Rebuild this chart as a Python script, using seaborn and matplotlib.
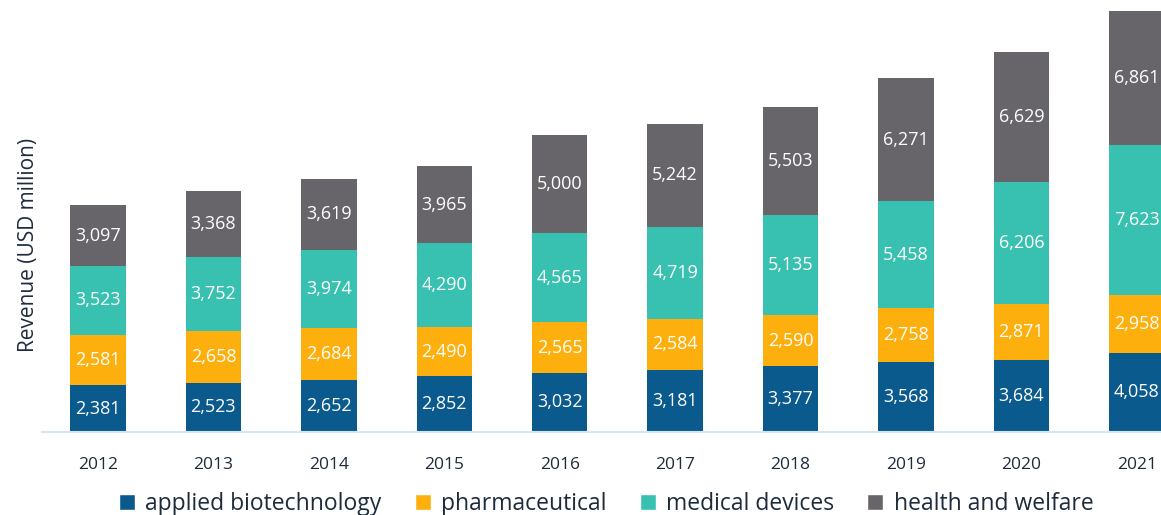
import pandas as pd
import seaborn as sns
from matplotlib import pyplot as plt
from matplotlib.patches import Patch

YEARS = ['2012', '2013', '2014', '2015', '2016', '2017', '2018', '2019', '2020', '2021']
BIOTECH = [2381, 2523, 2652, 2852, 3032, 3181, 3377, 3568, 3684, 4058]
PHARMA = [2581, 2658, 2684, 2490, 2565, 2584, 2590, 2758, 2871, 2958]
DEVICES = [3523, 3752, 3974, 4290, 4565, 4719, 5135, 5458, 6206, 7623]
WELFARE = [3097, 3368, 3619, 3965, 5000, 5242, 5503, 6271, 6629, 6861]

NAMES = ['applied biotechnology', 'pharmaceutical', 'medical devices', 'health and welfare']
COLORS = ['#0B5A8D', '#FDB00D', '#38C0B0', '#67646A']
TEXT = '#1E2B3C'

sns.set_style('white')
plt.rcParams['font.family'] = ['Open Sans', 'DejaVu Sans']

df = pd.DataFrame({'year': YEARS, NAMES[0]: BIOTECH, NAMES[1]: PHARMA,
                   NAMES[2]: DEVICES, NAMES[3]: WELFARE})
cum = df[NAMES].cumsum(axis=1)

fig = plt.figure(figsize=(11.61, 5.15), dpi=100)
ax = fig.add_axes([42 / 1161, 83 / 515, 1 - 42 / 1161, 432 / 515])

# draw cumulative totals from the top down so they stack
for name, color in reversed(list(zip(NAMES, COLORS))):
    sns.barplot(x=df['year'], y=cum[name], color=color, width=0.48,
                saturation=1, ax=ax, linewidth=0)

# segment labels
for i in range(len(YEARS)):
    for name in NAMES:
        top = cum.loc[i, name]
        val = df.loc[i, name]
        ax.text(i, top - val / 2, f'{val:,}', ha='center', va='center',
                color='white', fontsize=13)

ax.set_xlim(-0.485, 9.21)
ax.set_ylim(0, 22064)
ax.set_yticks([])
ax.set_xlabel('')
ax.set_ylabel('Revenue (USD million)', fontsize=15, color=TEXT)
ax.yaxis.set_label_coords(-0.0025, 0.433)
for s in ['top', 'right', 'left']:
    ax.spines[s].set_visible(False)
ax.spines['bottom'].set_color('#D5E5F3')
ax.spines['bottom'].set_linewidth(1.5)
ax.tick_params(axis='x', length=0, labelsize=12.5, labelcolor=TEXT, pad=18)

handles = [Patch(facecolor=c, label=n) for n, c in zip(NAMES, COLORS)]
fig.legend(handles=handles, loc='lower center', bbox_to_anchor=(0.522, -0.042),
           ncol=4, frameon=False, fontsize=16.5, handlelength=0.7,
           handleheight=0.7, handletextpad=0.45, columnspacing=1.45,
           labelcolor=TEXT)

plt.savefig('out.png', dpi=100)
plt.clf()
